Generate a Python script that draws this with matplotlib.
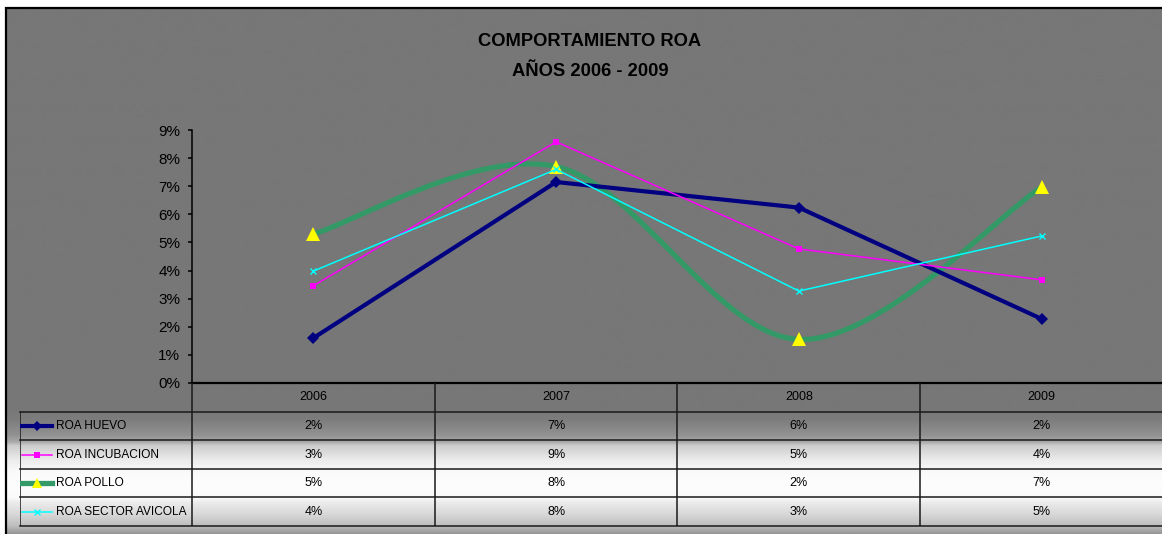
import numpy as np
import matplotlib
matplotlib.use("Agg")
import matplotlib.pyplot as plt
from matplotlib.path import Path
from matplotlib.patches import PathPatch
from matplotlib.ticker import FuncFormatter

plt.rcParams['font.family'] = ['Liberation Sans', 'DejaVu Sans']

# ——— data (ROA, %) ———
years = ['2006', '2007', '2008', '2009']
series_names = ['ROA HUEVO', 'ROA INCUBACION', 'ROA POLLO', 'ROA SECTOR AVICOLA']
roa_huevo = [1.60, 7.15, 6.24, 2.28]
roa_incubacion = [3.46, 8.58, 4.77, 3.67]
roa_pollo = [5.30, 7.70, 1.55, 6.97]
roa_sector = [3.98, 7.60, 3.27, 5.23]
yticks = list(range(0, 10))

# ——— styles ———
styles = [
    dict(color='#000080', lw=3.0, marker='D', ms=6.5, mfc='#000080', mec='#000080', mew=0),
    dict(color='#FF00FF', lw=1.1, marker='s', ms=5, mfc='#FF00FF', mec='#FF00FF', mew=0),
    dict(color='#339966', lw=3.8, marker='^', ms=10.5, mfc='#FFFF00', mec='#FFFF00', mew=0),
    dict(color='#00FFFF', lw=1.1, marker='x', ms=4.5, mfc='#00FFFF', mec='#00FFFF', mew=1.0),
]
key_ms = [5.5, 5.0, 7.5, 4.0]
smooth = [False, False, True, False]
all_series = [roa_huevo, roa_incubacion, roa_pollo, roa_sector]

W, H = 1162, 534
def fx(x): return x / W
def fy(y): return 1 - y / H

fig = plt.figure(figsize=(W / 100, H / 100), dpi=100, facecolor='white')

# ——— background with vertical gradient ———
bg = fig.add_axes([0, 0, 1, 1], zorder=-5)
bg.set_xlim(0, W); bg.set_ylim(H, 0); bg.axis('off')
yy = np.arange(8, H + 1)
gy = [8, 408, 420, 435, 442, 446, 460, 472, 485, 498, 503, 515, 526, 534]
gv = [119, 119, 125, 145, 168, 205, 235, 250, 253, 250, 235, 215, 190, 150]
shade = np.interp(yy, gy, gv) / 255.0
img = np.repeat(shade[:, None, None], 3, axis=2)
bg.imshow(img, extent=(6, W, H, 8), aspect='auto', interpolation='bilinear')
bg.plot([6, 6, W], [H, 8, 8], color='black', lw=1.6, solid_joinstyle='miter')

fig.text(fx(590), fy(42), 'COMPORTAMIENTO ROA', ha='center', va='center',
         fontsize=13.2, fontweight='bold', color='black')
fig.text(fx(590), fy(71), 'AÑOS 2006 - 2009', ha='center', va='center',
         fontsize=13.2, fontweight='bold', color='black')

# ——— main plot ———
x_left, x_right, y_top, y_axis = 192, 1163, 130, 383
ax = fig.add_axes([fx(x_left), fy(y_axis), (x_right - x_left) / W, (y_axis - y_top) / H])
ax.patch.set_alpha(0)
ax.set_xlim(-0.5, len(years) - 0.5)
ax.set_ylim(0, 9)
for s in ['top', 'right']:
    ax.spines[s].set_visible(False)
ax.spines['left'].set_linewidth(1.1)
ax.spines['bottom'].set_linewidth(1.6)
ax.set_xticks([])
ax.set_yticks(yticks)
ax.yaxis.set_major_formatter(FuncFormatter(lambda v, p: f'{v:.0f}%'))
ax.tick_params(axis='y', direction='out', length=3, width=1.1, pad=5.5, labelsize=11, colors='black')

xs = np.arange(len(years))

def excel_smooth_path(x, y):
    pts = np.column_stack([x, y]).astype(float)
    n = len(pts)
    verts = [pts[0]]
    codes = [Path.MOVETO]
    for i in range(n - 1):
        p0 = pts[max(i - 1, 0)]
        p1 = pts[i]
        p2 = pts[i + 1]
        p3 = pts[min(i + 2, n - 1)]
        c1 = p1 + (p2 - p0) / 6.0
        c2 = p2 - (p3 - p1) / 6.0
        verts += [c1, c2, p2]
        codes += [Path.CURVE4] * 3
    return Path(verts, codes)

for vals, st, sm in zip(all_series, styles, smooth):
    if sm:
        ax.add_patch(PathPatch(excel_smooth_path(xs, vals), fill=False,
                               edgecolor=st['color'], lw=st['lw'], capstyle='round',
                               joinstyle='round'))
        ax.plot(xs, vals, ls='none', marker=st['marker'], ms=st['ms'],
                mfc=st['mfc'], mec=st['mec'], mew=st['mew'], clip_on=False)
    else:
        ax.plot(xs, vals, color=st['color'], lw=st['lw'], marker=st['marker'],
                ms=st['ms'], mfc=st['mfc'], mec=st['mec'], mew=st['mew'], clip_on=False)

# ——— data table ———
t_left, t_bottom = 20, 526
unit = (x_right - x_left) / len(years)
xmin = -0.5 - (x_left - t_left) / unit
nrows = len(series_names) + 1
tab = fig.add_axes([fx(t_left), fy(t_bottom), (x_right - t_left) / W, (t_bottom - y_axis) / H])
tab.patch.set_alpha(0)
tab.axis('off')
tab.set_xlim(xmin, len(years) - 0.5)
tab.set_ylim(nrows, 0)

lc, lw = '#1a1a1a', 1.1
for r in range(1, nrows + 1):
    tab.plot([xmin, len(years) - 0.5], [r, r], color=lc, lw=lw, clip_on=False)
tab.plot([xmin, xmin], [1, nrows], color=lc, lw=lw)
for k in range(len(years)):
    tab.plot([k - 0.5, k - 0.5], [0, nrows], color=lc, lw=lw)

fs = 9.0
fs_name = 8.6
for k, yr in enumerate(years):
    tab.text(k, 0.5, yr, ha='center', va='center', fontsize=fs, color='black')

for r, (name, vals, st, kms) in enumerate(zip(series_names, all_series, styles, key_ms), start=1):
    yc = r + 0.5
    kx = [xmin + 0.01, xmin + 0.07, xmin + 0.13]
    tab.plot(kx, [yc] * 3, color=st['color'], lw=st['lw'], marker=st['marker'],
             markevery=[1], ms=kms, mfc=st['mfc'], mec=st['mec'], mew=st['mew'])
    tab.text(xmin + 0.148, yc, name, ha='left', va='center', fontsize=fs_name, color='black')
    for k, v in enumerate(vals):
        tab.text(k, yc, f'{v:.0f}%', ha='center', va='center', fontsize=fs, color='black')

fig.savefig('out.png', dpi=100)
